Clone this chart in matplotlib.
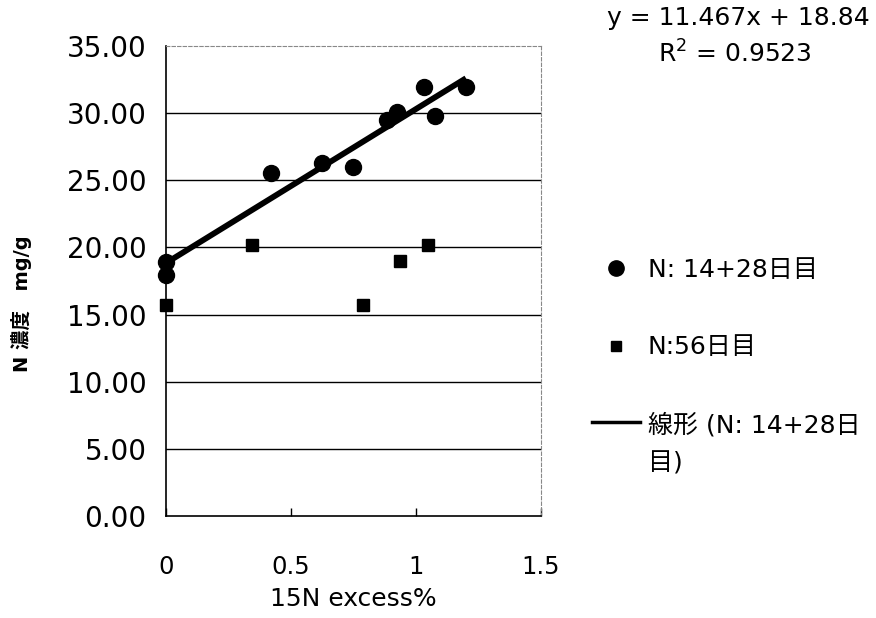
import matplotlib
matplotlib.use("Agg")
import matplotlib.pyplot as plt
from matplotlib.lines import Line2D
from matplotlib.legend_handler import HandlerLine2D
import numpy as np

plt.rcParams['font.family'] = ['DejaVu Sans', 'Noto Sans CJK JP']

# Data
x_1428 = [0.0, 0.0, 0.418, 0.622, 0.749, 0.883, 0.923, 1.033, 1.074, 1.200]
y_1428 = [18.90, 17.96, 25.54, 26.28, 25.96, 29.50, 30.12, 31.98, 29.82, 31.98]
x_56 = [0.0, 0.342, 0.787, 0.935, 1.048]
y_56 = [15.75, 20.16, 15.75, 19.02, 20.16]
slope, intercept, r2 = 11.467, 18.84, 0.9523
xticks = [0, 0.5, 1, 1.5]
xtick_labels = ['0', '0.5', '1', '1.5']
yticks = [0, 5, 10, 15, 20, 25, 30, 35]
ytick_labels = ['%.2f' % v for v in yticks]
label_1428 = 'N: 14+28日目'
label_56 = 'N:56日目'
label_fit = '線形 (N: 14+28日\n目)'


class ShiftedLineHandler(HandlerLine2D):
    def __init__(self, shift=0.0, **kw):
        super().__init__(**kw)
        self.shift = shift

    def create_artists(self, legend, orig_handle, xdescent, ydescent, width,
                       height, fontsize, trans):
        return super().create_artists(legend, orig_handle, xdescent,
                                      ydescent - 2 * self.shift, width,
                                      height, fontsize, trans)


fig = plt.figure(figsize=(8.76, 6.18), dpi=100)
ax = fig.add_axes([166/876, 1-516/618, (541-166)/876, (516-46)/618])

ax.set_xlim(0, 1.5)
ax.set_ylim(0, 35)

for v in yticks[1:-1]:
    ax.axhline(v, color='black', lw=1.0, zorder=1)

xf = np.array([min(x_1428), max(x_1428)])
ax.plot(xf, slope*xf + intercept, color='black', lw=4.2, solid_capstyle='butt', zorder=3)
ax.plot(x_1428, y_1428, 'o', color='black', ms=11.5, zorder=4, clip_on=False)
ax.plot(x_56, y_56, 's', color='black', ms=8, zorder=4, clip_on=False)

ax.set_xticks(xticks)
ax.set_xticklabels(xtick_labels, fontsize=17.5)
ax.set_yticks(yticks)
ax.set_yticklabels(ytick_labels, fontsize=20)
ax.tick_params(axis='x', direction='in', length=6, width=1, pad=28)
ax.tick_params(axis='y', length=0, pad=14)

for s in ['left', 'bottom']:
    ax.spines[s].set_color('black')
    ax.spines[s].set_linewidth(1.2)
for s in ['top', 'right']:
    ax.spines[s].set_color('#888888')
    ax.spines[s].set_linewidth(0.8)
    ax.spines[s].set_linestyle((0, (3, 2)))

ax.set_xlabel('15N excess%', fontsize=18, labelpad=6)
fig.text(22/876, 1-304/618, 'N 濃度　mg/g', rotation=90, ha='center', va='center',
         fontsize=14, fontweight='bold')

fig.text(738/876, 1-18/618, 'y = %.3fx + %.2f' % (slope, intercept), ha='center', va='center', fontsize=18)
fig.text(735/876, 1-54/618, 'R$^2$ = %.4f' % r2, ha='center', va='center', fontsize=18)

h_fit = Line2D([], [], color='black', lw=2.5)
handles = [
    Line2D([], [], marker='o', color='black', ls='none', ms=11),
    Line2D([], [], marker='s', color='black', ls='none', ms=7),
    h_fit,
]
leg = fig.legend(handles, [label_1428, label_56, label_fit], loc='upper left',
                 bbox_to_anchor=(592/876, 1-258/618), frameon=False, fontsize=18,
                 handlelength=1.92, handletextpad=0.3, labelspacing=2.14,
                 borderpad=0, borderaxespad=0,
                 handler_map={h_fit: ShiftedLineHandler(shift=17)})
leg.get_texts()[2].set_linespacing(1.75)

fig.savefig('out.png', dpi=100)
